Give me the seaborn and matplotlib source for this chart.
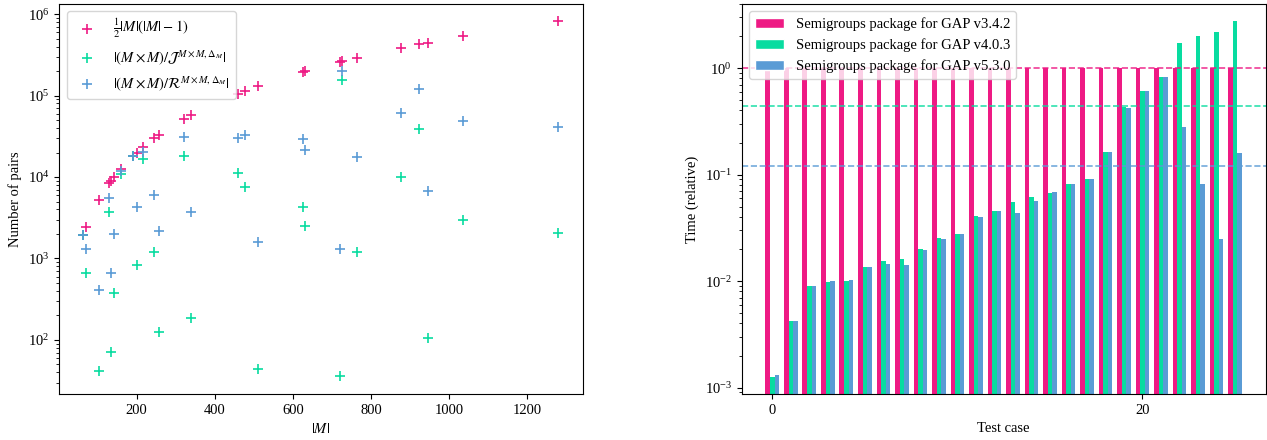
import numpy as np
import pandas as pd
import matplotlib
matplotlib.use('Agg')
import matplotlib.pyplot as plt
from matplotlib.patches import Patch
import seaborn as sns

sns.set_style('ticks', {'axes.edgecolor': 'black', 'xtick.color': 'black',
                        'ytick.color': 'black', 'text.color': 'black',
                        'axes.labelcolor': 'black'})
plt.rcParams['font.family'] = ['Liberation Serif', 'DejaVu Serif']
plt.rcParams['mathtext.fontset'] = 'stix'
plt.rcParams['font.size'] = 10.5

# --- left panel: number of pairs vs |M| ---
sizes = [63, 70, 103, 130, 134, 141, 159, 190, 200, 216, 245, 256, 322, 339,
         460, 477, 511, 625, 631, 720, 727, 763, 876, 923, 945, 1036, 1280]
all_pairs = [1953, 2415, 5253, 8385, 8911, 9870, 12561, 17955, 19900, 23220,
             29890, 32640, 51681, 57291, 105570, 113526, 130305, 195000, 198765,
             258840, 263901, 290703, 383250, 425503, 446040, 536130, 818560]
j_pairs = [1953, 658, 42, 3690, 72, 380, 10790, 17955, 832, 16480, 1213, 124,
           18100, 188, 11190, 7600, 44, 4250, 2505, 36, 155000, 1213, 9900,
           39200, 105, 2990, 2040]
r_pairs = [1953, 1297, 410, 5570, 658, 1983, 11940, 17955, 4250, 20400, 6010,
           2190, 31200, 3690, 30100, 33000, 1607, 28950, 21440, 1297, 201400,
           17750, 60500, 119200, 6670, 48600, 41400]
pair_labels = [r'$\frac{1}{2}|M|(|M|-1)$',
               r'$|(M\times M)/\mathcal{J}^{M\times M,\Delta_M}|$',
               r'$|(M\times M)/\mathcal{R}^{M\times M,\Delta_M}|$']

# --- right panel: relative run times per test case ---
cases = list(range(26))
versions = ['Semigroups package for GAP v3.4.2',
            'Semigroups package for GAP v4.0.3',
            'Semigroups package for GAP v5.3.0']
t_v3 = [1.0, 1.0, 1.0, 1.0, 1.0, 1.0, 1.0, 1.0, 1.0, 1.0, 1.0, 1.0, 1.0,
        1.0, 1.0, 1.0, 1.0, 1.0, 1.0, 1.0, 1.0, 1.0, 1.0, 1.0, 1.0, 1.0]
t_v4 = [0.00127, 0.0042, 0.0089, 0.00975, 0.0101, 0.0136, 0.0153, 0.016,
        0.0199, 0.0256, 0.0279, 0.0412, 0.0456, 0.0557, 0.0621, 0.0668,
        0.0818, 0.0918, 0.163, 0.435, 0.612, 0.823, 1.74, 2.01, 2.19, 2.77]
t_v5 = [0.0013, 0.0042, 0.0089, 0.00995, 0.0103, 0.0136, 0.0145, 0.0142,
        0.0196, 0.0249, 0.0279, 0.0403, 0.0456, 0.0434, 0.057, 0.0688,
        0.0818, 0.091, 0.163, 0.426, 0.612, 0.82, 0.277, 0.0823, 0.0247, 0.161]

pink, green, blue = '#ee1a84', '#08dca0', '#5a9bd5'
colors = [pink, green, blue]

fig = plt.figure(figsize=(12.67, 4.4), dpi=100)
ax1 = fig.add_axes([0.0468, 0.1045, 0.4131, 0.8864])
ax2 = fig.add_axes([0.5854, 0.1045, 0.4136, 0.8864])

# scatter of pair counts
for vals, col, lab in zip([all_pairs, j_pairs, r_pairs], colors, pair_labels):
    sns.scatterplot(x=sizes, y=vals, color=col, marker='+', s=50,
                    linewidth=1.2, label=lab, ax=ax1)
ax1.set_yscale('log')
ax1.set_xlim(2, 1342)
ax1.set_ylim(21.7, 1.33e6)
ax1.set_xlabel(r'$|M|$')
ax1.set_ylabel('Number of pairs')
ax1.legend(loc='upper left')

# grouped bars of relative times
df = pd.concat([pd.DataFrame({'case': cases, 'time': t, 'version': v})
                for t, v in zip([t_v3, t_v4, t_v5], versions)])
ax2.set_yscale('log')
sns.barplot(data=df, x='case', y='time', hue='version', hue_order=versions,
            palette=colors, width=0.75, saturation=1, errorbar=None,
            linewidth=0, legend=False, ax=ax2)
for t, col in zip([t_v3, t_v4, t_v5], colors):
    ax2.axhline(np.mean(t), color=col, ls='--', lw=1.2, alpha=0.85)
ax2.set_xlim(-1.66, 26.66)
ax2.set_ylim(8.7e-4, 4.0)
ax2.set_xticks([0, 20])
ax2.set_xticklabels(['0', '20'])
ax2.set_xlabel('Test case')
ax2.set_ylabel('Time (relative)')
ax2.legend(handles=[Patch(facecolor=c, label=v) for c, v in zip(colors, versions)],
           loc='upper left')

fig.savefig('out.png', dpi=100)
